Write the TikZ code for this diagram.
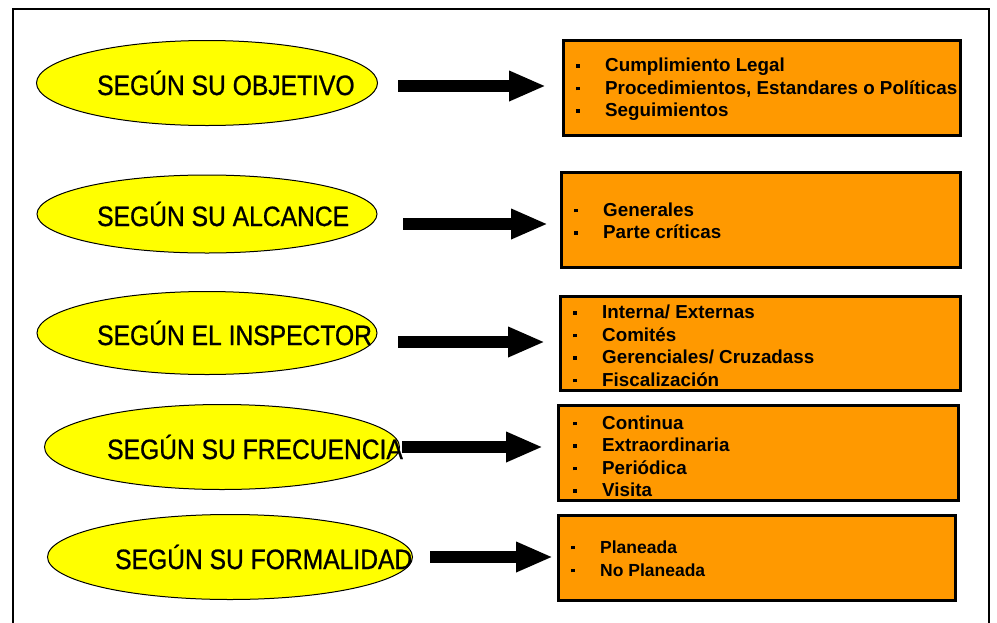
\documentclass[tikz,border=0pt]{standalone}
\usepackage{fontspec}
\setmainfont{Liberation Sans}
\newfontfamily\ellfont[FakeStretch=0.88,FakeBold=0.8]{Liberation Sans}
\usetikzlibrary{shapes.geometric,arrows.meta}
\definecolor{ellyellow}{HTML}{FFFF00}
\definecolor{boxorange}{HTML}{FF9900}
\newcommand\blt{\rule[4pt]{3.5pt}{3.5pt}}
\newcommand\itm[1]{\makebox[29pt][l]{\blt}#1}
\tikzset{
  ell/.style={ellipse,draw=black,line width=1pt,fill=ellyellow,inner sep=0pt},
  elltext/.style={anchor=west,inner sep=0pt,font=\ellfont\fontsize{28}{30}\selectfont},
  catbox/.style={draw=black,line width=3pt,fill=boxorange,inner sep=0pt},
  boxtext/.style={anchor=west,inner sep=0pt,align=left,font=\bfseries\fontsize{18.8}{22.5}\selectfont},
  bigarrow/.style={line width=12pt,-{Triangle[length=37pt,width=28pt]}}
}
\begin{document}
\begin{tikzpicture}[x=1pt,y=-1pt]
\useasboundingbox (0,0) rectangle (997,622);
\draw[line width=1.5pt] (13,640) -- (13,9) -- (989,9) -- (989,640);
% ellipses
\node[ell,minimum width=341pt,minimum height=85pt] (e1) at (207,83) {};
\node[ell,minimum width=340pt,minimum height=78pt] (e2) at (207,214) {};
\node[ell,minimum width=340pt,minimum height=83pt] (e3) at (207,333) {};
\node[ell,minimum width=355pt,minimum height=85pt] (e4) at (222,447) {};
\node[ell,minimum width=365pt,minimum height=85pt] (e5) at (230,557) {};
\node[elltext] (t1) at (97,83) {SEGÚN SU OBJETIVO};
\node[elltext] (t2) at (97,214) {SEGÚN SU ALCANCE};
\node[elltext] (t3) at (97,333) {SEGÚN EL INSPECTOR};
\node[elltext] (t4) at (107,447) {SEGÚN SU FRECUENCIA};
\node[elltext] (t5) at (115,557) {SEGÚN SU FORMALIDAD};
% boxes
\node[catbox,minimum width=397pt,minimum height=95pt] (b1) at (761.5,87.5) {};
\node[catbox,minimum width=399pt,minimum height=95pt] (b2) at (760.5,219.5) {};
\node[catbox,minimum width=400pt,minimum height=94pt] (b3) at (760,343) {};
\node[catbox,minimum width=400pt,minimum height=95pt] (b4) at (758,452.5) {};
\node[catbox,minimum width=397pt,minimum height=85pt] (b5) at (756.5,557.5) {};
\node[boxtext] (l1) at (576,89.5) {\itm{Cumplimiento Legal}\\\itm{Procedimientos, Estandares o Políticas}\\\itm{Seguimientos}};
\node[boxtext] (l2) at (574,221) {\itm{Generales}\\\itm{Parte críticas}};
\node[boxtext] (l3) at (573,346) {\itm{Interna/ Externas}\\\itm{Comités}\\\itm{Gerenciales/ Cruzadass}\\\itm{Fiscalización}};
\node[boxtext] (l4) at (573,456.5) {\itm{Continua}\\\itm{Extraordinaria}\\\itm{Periódica}\\\itm{Visita}};
\node[boxtext,font=\bfseries\fontsize{17.5}{23}\selectfont] (l5) at (571,558.5) {\itm{Planeada}\\\itm{No Planeada}};
% arrows
\coordinate (a1s) at (398,86);  \coordinate (a1e) at (546,86);
\coordinate (a2s) at (403,224); \coordinate (a2e) at (548,224);
\coordinate (a3s) at (398,342); \coordinate (a3e) at (545,342);
\coordinate (a4s) at (402,447); \coordinate (a4e) at (543,447);
\coordinate (a5s) at (430,557); \coordinate (a5e) at (553,557);
\draw[bigarrow] (a1s) -- (a1e);
\draw[bigarrow] (a2s) -- (a2e);
\draw[bigarrow] (a3s) -- (a3e);
\draw[bigarrow] (a4s) -- (a4e);
\draw[bigarrow] (a5s) -- (a5e);
\end{tikzpicture}
\end{document}
